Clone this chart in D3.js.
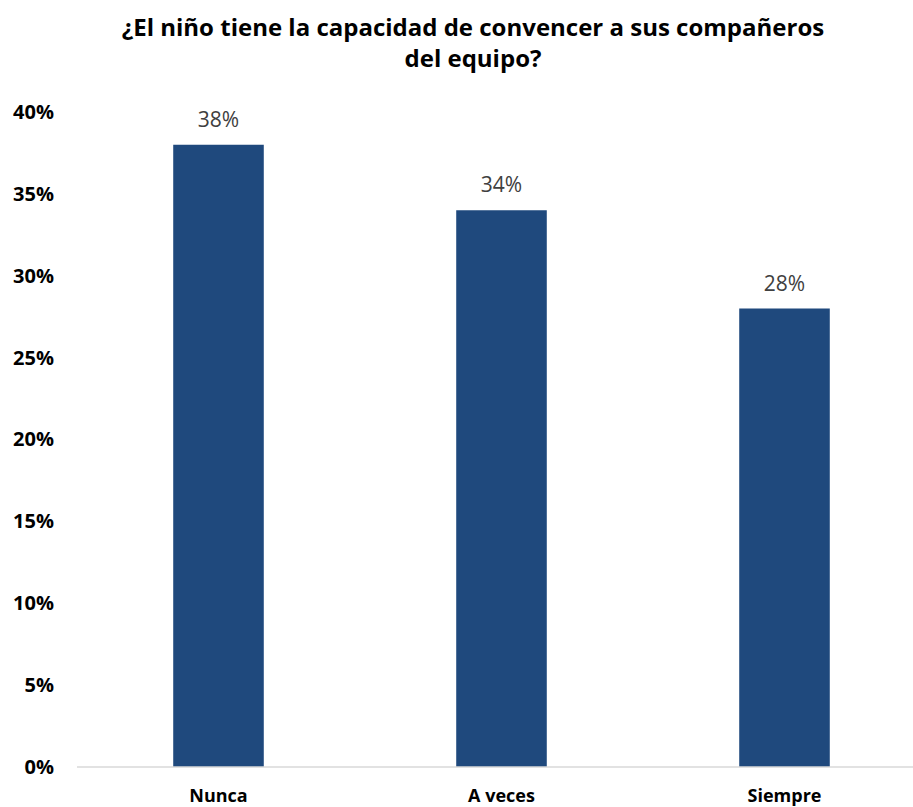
<!DOCTYPE html>
<html><head><meta charset="utf-8">
<script src="https://cdn.jsdelivr.net/npm/d3@7"></script>
<style>body{margin:0;background:#fff}svg{display:block}</style>
</head><body>
<script>
const categories = ["Nunca", "A veces", "Siempre"];
const values = [0.38, 0.34, 0.28];
const tickValues = [0, 0.05, 0.10, 0.15, 0.20, 0.25, 0.30, 0.35, 0.40];
const titleLines = ["¿El niño tiene la capacidad de convencer a sus compañeros", "del equipo?"];

const W = 913, H = 807;
const svg = d3.select("body").append("svg").attr("width", W).attr("height", H);
const font = "'Open Sans', 'Noto Sans', sans-serif";

const x = d3.scaleBand().domain(categories).range([77, 926]).paddingInner(0.68).paddingOuter(0.34);
const y = d3.scaleLinear().domain([0, 0.40]).range([767, 112]);

// title
svg.append("g").selectAll("text").data(titleLines).join("text")
  .attr("x", 473).attr("y", (d, i) => 36 + i * 31)
  .attr("text-anchor", "middle").attr("font-family", font).attr("font-weight", "bold")
  .attr("font-size", 24).attr("fill", "#000").text(d => d);

// y axis labels
const yAxis = d3.axisLeft(y).tickValues(tickValues).tickFormat(d3.format(".0%")).tickSize(0).tickPadding(0);
const ya = svg.append("g").attr("transform", "translate(54,0)").call(yAxis);
ya.select(".domain").remove();
ya.selectAll("text").attr("font-family", font).attr("font-weight", "bold").attr("font-size", 20).attr("fill", "#000");

// bars
svg.append("g").selectAll("rect").data(values).join("rect")
  .attr("x", (d, i) => x(categories[i])).attr("width", x.bandwidth())
  .attr("y", d => y(d)).attr("height", d => y(0) - y(d)).attr("fill", "#1f497d");

// baseline
svg.append("line").attr("x1", 77).attr("x2", 926).attr("y1", y(0)).attr("y2", y(0))
  .attr("stroke", "#d9d9d9").attr("stroke-width", 1.5);

// data labels
svg.append("g").selectAll("text").data(values).join("text")
  .attr("x", (d, i) => x(categories[i]) + x.bandwidth() / 2).attr("y", d => y(d) - 18)
  .attr("text-anchor", "middle").attr("font-family", font).attr("font-size", 21).attr("fill", "#404040")
  .text(d => d3.format(".0%")(d));

// x axis labels
const xAxis = d3.axisBottom(x).tickSize(0).tickPadding(0);
const xa = svg.append("g").attr("transform", `translate(0,${y(0)})`).call(xAxis);
xa.select(".domain").remove();
xa.selectAll("text").attr("dy", null).attr("y", 35)
  .attr("font-family", font).attr("font-weight", "bold").attr("font-size", 18).attr("fill", "#000");
</script>
</body></html>
